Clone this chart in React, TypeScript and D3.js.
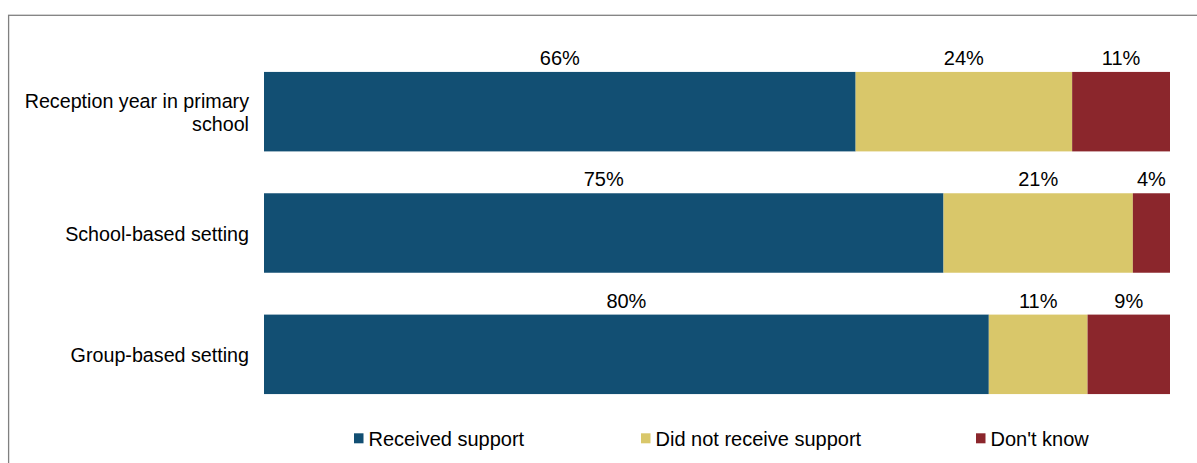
import React from "react";
import * as d3 from "d3";

const categories = ["Reception year in primary school", "School-based setting", "Group-based setting"];
const categoryLines = [["Reception year in primary", "school"], ["School-based setting"], ["Group-based setting"]];
const seriesNames = ["Received support", "Did not receive support", "Don't know"];
const received = [65.3, 75.0, 80.0];
const notReceived = [23.9, 20.9, 10.9];
const dontKnow = [10.8, 4.1, 9.1];
const receivedLabels = ["66%", "75%", "80%"];
const notReceivedLabels = ["24%", "21%", "11%"];
const dontKnowLabels = ["11%", "4%", "9%"];

const colors = ["#124F73", "#D9C76A", "#8B262C"];
const W = 1197;
const H = 463;
const FONT = "'Liberation Sans', Arial, sans-serif";
const FS = 20;
const FS_CAT = 19.7;

export default function App() {
  const x = d3.scaleLinear().domain([0, 100]).range([264, 1170]);
  const y = d3.scaleBand<string>().domain(categories).range([51, 415]).paddingInner(0.345).paddingOuter(0.1725);
  const series = [received, notReceived, dontKnow];
  const labels = [receivedLabels, notReceivedLabels, dontKnowLabels];
  const rows = categories.map((c, i) => {
    const vals = series.map((s) => s[i]);
    const stack = d3.cumsum(vals);
    return vals.map((v, k) => ({ k, x0: stack[k] - v, x1: stack[k], label: labels[k][i] }));
  });
  const legendX = [354, 641, 976];
  return (
    <svg width={W} height={H} style={{ position: "absolute", left: 0, top: 0 }} fontFamily={FONT}>
      <rect x={8.6} y={15.3} width={W + 20} height={H + 20} fill="white" stroke="#808080" strokeWidth={1.3} />
      {categories.map((c, i) => {
        const yb = y(c)!;
        const bw = y.bandwidth();
        const cy = yb + bw / 2;
        const lines = categoryLines[i];
        const lh = 23;
        return (
          <g key={c}>
            {rows[i].map((seg) => (
              <g key={seg.k}>
                <rect x={x(seg.x0)} y={yb} width={x(seg.x1) - x(seg.x0)} height={bw} fill={colors[seg.k]} />
                <text x={(x(seg.x0) + x(seg.x1)) / 2} y={yb - 7} textAnchor="middle" fontSize={FS} fill="#000">
                  {seg.label}
                </text>
              </g>
            ))}
            {lines.map((ln, j) => (
              <text
                key={j}
                x={249}
                y={cy + 7.5 + (j - (lines.length - 1) / 2) * lh}
                textAnchor="end"
                fontSize={FS_CAT}
                fill="#000"
              >
                {ln}
              </text>
            ))}
          </g>
        );
      })}
      {seriesNames.map((n, k) => (
        <g key={n}>
          <rect x={legendX[k]} y={433.3} width={9.5} height={10} fill={colors[k]} />
          <text x={legendX[k] + 14.5} y={446} fontSize={FS} fill="#000">
            {n}
          </text>
        </g>
      ))}
    </svg>
  );
}
